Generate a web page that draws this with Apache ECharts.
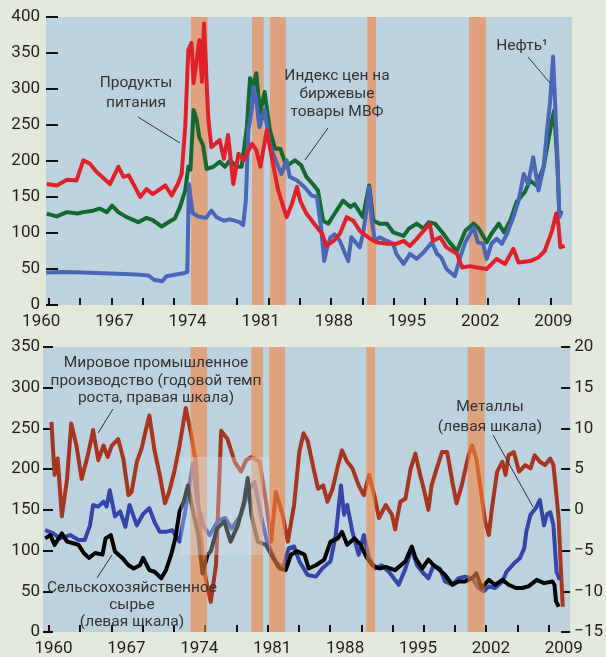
<!DOCTYPE html>
<html>
<head>
<meta charset="utf-8">
<script src="https://cdn.jsdelivr.net/npm/echarts@6.0.0/dist/echarts.min.js"></script>
<style>
html, body { margin: 0; padding: 0; background: #e3eadb; }
#chart-container { width: 606px; height: 657px; }
</style>
</head>
<body>
<div id="chart-container"></div>
<script>
var dom = document.getElementById('chart-container');
var myChart = echarts.init(dom, null, { renderer: 'canvas' });

// x values are years
const yearLabels = [1960, 1967, 1974, 1981, 1988, 1995, 2002, 2009];

// global recessions (start, end)
const recessions = [
    [1974.35, 1975.95],
    [1980.19, 1981.31],
    [1981.91, 1983.44],
    [1991.22, 1992.06],
    [2000.96, 2002.59]
];

// top panel
const food = [
    [1960.55,168],[1961.5,166],[1962.5,174],[1963.4,173],[1964.05,201],[1964.7,196],[1965.3,185],[1966.6,168],
    [1967.4,192],[1967.9,178],[1968.4,180],[1969.5,150],[1970.1,161],[1970.7,154],[1971.9,166],[1972.5,152],
    [1973.1,168],[1973.46,182],[1973.8,247],[1974.1,354],[1974.4,364],[1974.6,308],[1975.15,368],[1975.4,310],
    [1975.6,391],[1976.0,261],[1976.3,219],[1977.1,229],[1977.5,203],[1977.9,236],[1978.4,168],[1978.9,210],
    [1979.4,201],[1980.2,224],[1980.6,215],[1981.0,192],[1981.6,243],[1982.2,196],[1982.7,159],[1983.5,122],
    [1984.0,140],[1984.5,164],[1984.8,145],[1985.4,127],[1986.4,108],[1986.9,99],[1987.3,82],[1988.0,89],
    [1988.6,99],[1989.25,122],[1989.9,117],[1990.5,103],[1991.5,92],[1992.1,87],[1993.1,85],[1994.0,85],
    [1994.7,89],[1995.3,82],[1995.95,92],[1997.2,113],[1997.5,89],[1998.2,94],[1998.8,80],[1999.8,71],
    [2000.3,52],[2001.05,54],[2001.7,52],[2002.65,50],[2003.6,64],[2004.4,57],[2005.2,78],[2005.7,59],
    [2006.8,61],[2007.6,66],[2008.2,75],[2008.9,103],[2009.3,127],[2009.5,113],[2009.7,80],[2010.1,82]
];

const imfIndex = [
    [1960.55,127],[1961.5,123],[1962.5,129],[1963.5,127],[1964.05,129],[1965.0,131],[1965.6,134],[1966.3,129],
    [1966.8,138],[1967.4,129],[1968.2,122],[1969.3,115],[1970.1,121],[1970.7,118],[1971.55,109],[1972.2,115],
    [1972.8,120],[1973.3,136],[1973.8,159],[1974.1,192],[1974.3,188],[1974.6,271],[1974.9,257],[1975.15,233],
    [1975.5,222],[1975.85,189],[1976.5,192],[1977.1,199],[1977.6,192],[1978.1,201],[1978.7,192],[1979.2,192],
    [1979.7,247],[1980.0,315],[1980.3,303],[1980.6,322],[1980.96,266],[1981.4,296],[1981.9,243],[1982.4,217],
    [1982.9,217],[1983.5,192],[1983.8,196],[1984.3,201],[1984.9,194],[1985.4,178],[1986.0,168],[1986.5,159],
    [1987.0,117],[1987.5,113],[1988.1,127],[1988.9,145],[1989.6,136],[1990.0,140],[1990.8,122],[1991.4,166],
    [1991.8,117],[1992.4,113],[1993.1,113],[1993.7,101],[1994.7,96],[1995.2,106],[1995.95,113],[1996.6,106],
    [1997.1,115],[1997.7,113],[1998.5,99],[1999.1,87],[1999.8,75],[2000.6,103],[2001.4,113],[2001.9,106],
    [2002.65,87],[2003.1,99],[2003.8,113],[2004.3,101],[2004.9,117],[2005.5,143],[2006.3,157],[2006.8,173],
    [2007.4,166],[2008.1,192],[2008.55,229],[2008.9,257],[2009.1,270],[2009.4,200],[2009.6,125],[2009.8,131]
];

const oil = [
    [1960.5,45],[1962,46],[1964,45],[1966,44],[1968,43],[1969.5,42],[1970.3,41],[1970.8,35],[1971.6,33],
    [1972.0,40],[1972.8,42],[1973.6,44],[1974.0,46],[1974.15,168],[1974.5,128],[1975.0,123],[1975.8,121],
    [1976.3,131],[1976.8,122],[1977.5,117],[1978.1,119],[1979.0,115],[1979.35,111],[1979.6,145],[1979.85,243],
    [1980.2,275],[1980.3,303],[1980.6,285],[1980.9,247],[1981.4,271],[1981.8,229],[1982.2,210],[1982.7,192],
    [1983.0,182],[1983.5,201],[1983.8,178],[1984.5,173],[1985.2,164],[1985.9,152],[1986.4,150],[1986.8,108],
    [1987.1,61],[1987.3,75],[1987.7,94],[1988.1,98],[1988.6,89],[1989.4,61],[1989.7,94],[1990.5,80],
    [1990.8,98],[1991.2,136],[1991.4,164],[1991.65,117],[1991.95,89],[1992.4,94],[1993.1,89],[1993.7,85],
    [1994.0,71],[1994.7,57],[1995.3,71],[1995.95,64],[1996.6,73],[1997.4,87],[1997.9,71],[1998.3,66],
    [1998.8,50],[1999.6,40],[2000.1,66],[2000.6,87],[2001.05,99],[2001.4,108],[2001.8,87],[2002.3,85],
    [2002.65,64],[2003.1,85],[2003.6,92],[2004.1,85],[2004.6,99],[2005.2,122],[2005.7,145],[2006.2,182],
    [2006.6,168],[2007.1,205],[2007.6,159],[2008.1,192],[2008.45,247],[2008.7,280],[2009.0,345],[2009.15,345],
    [2009.4,210],[2009.6,122],[2009.8,129]
];

// bottom panel
const industrial = [ // right axis, % y/y
    [1961.0,10.8],[1961.3,4.3],[1961.6,6.3],[1962.0,-0.8],[1962.5,3.8],[1962.9,10.6],[1963.4,7.9],[1963.9,3.8],
    [1964.5,6.7],[1965.0,9.8],[1965.5,6.1],[1966.0,7.9],[1966.4,6.5],[1966.8,7.9],[1967.4,8.7],[1967.9,6.3],
    [1968.4,1.8],[1968.7,2.2],[1969.2,5.9],[1969.65,7.5],[1970.1,10.0],[1970.4,11.6],[1970.9,7.3],[1971.4,4.3],
    [1971.9,0.8],[1972.3,2.2],[1972.8,4.7],[1973.3,7.9],[1973.9,12.5],[1974.4,9.4],[1974.9,5.5],[1975.2,-1.5],
    [1975.5,-5.1],[1975.8,-8.4],[1976.3,-11.3],[1976.8,-6.8],[1977.3,9.7],[1977.9,8.7],[1978.6,5.9],[1979.2,4.7],
    [1979.7,6.1],[1980.2,6.5],[1981.0,5.9],[1981.6,1.0],[1982.1,-3.9],[1982.55,2.2],[1983.2,-0.6],[1983.7,-3.9],
    [1984.3,0.6],[1984.8,7.1],[1985.2,9.4],[1985.6,8.5],[1986.1,5.5],[1986.6,2.6],[1987.1,3.0],[1987.5,1.0],
    [1988.0,2.6],[1988.45,5.1],[1988.9,7.3],[1989.4,5.9],[1989.9,5.1],[1990.5,3.0],[1991.0,1.8],[1991.5,4.3],
    [1992.0,1.8],[1992.45,-1.0],[1993.1,0.6],[1993.7,-0.6],[1994.0,-2.4],[1994.5,1.0],[1995.0,1.4],[1995.5,5.1],
    [1995.95,6.9],[1996.4,4.3],[1996.75,2.6],[1997.2,0.0],[1997.5,3.0],[1998.0,5.1],[1998.5,7.1],[1999.0,7.1],
    [1999.5,3.4],[1999.9,0.8],[2000.4,3.0],[2001.05,6.7],[2001.4,7.9],[2001.8,6.3],[2002.3,1.8],[2002.65,-1.45],
    [2003.0,-3.1],[2003.3,0.2],[2003.8,4.7],[2004.3,5.9],[2004.6,4.3],[2004.9,6.7],[2005.4,7.1],[2005.9,4.7],
    [2006.5,5.5],[2007.0,5.1],[2007.4,6.7],[2007.9,5.9],[2008.4,5.5],[2008.9,6.3],[2009.2,5.5],[2009.4,3.0],
    [2009.7,-1.0],[2009.9,-6.8],[2010.1,-11.9]
];

const metals = [
    [1960.4,125],[1961.2,121],[1961.8,115],[1962.8,119],[1963.6,113],[1964.2,113],[1964.7,131],[1965.0,156],
    [1965.5,154],[1966.0,160],[1966.3,154],[1966.6,174],[1967.1,142],[1967.6,148],[1968.1,129],[1968.5,156],
    [1969.2,131],[1969.8,145],[1970.4,152],[1970.9,135],[1971.4,123],[1972.0,123],[1972.6,125],[1973.3,111],
    [1973.9,152],[1974.6,207],[1975.0,160],[1975.6,130],[1976.2,119],[1977.0,137],[1977.7,140],[1978.3,127],
    [1979.2,144],[1980.0,176],[1980.5,184],[1981.1,144],[1981.7,111],[1982.5,87],[1983.2,78],[1983.8,103],
    [1984.3,105],[1984.8,87],[1985.6,70],[1986.4,68],[1987.0,78],[1987.8,87],[1988.3,119],[1988.8,180],
    [1989.1,144],[1989.4,156],[1989.9,123],[1990.5,95],[1991.0,119],[1991.5,91],[1992.1,78],[1992.7,82],
    [1993.4,74],[1994.35,58],[1995.0,78],[1995.6,103],[1996.1,82],[1996.6,74],[1997.2,66],[1997.7,82],
    [1998.3,78],[1998.8,62],[1999.5,58],[2000.1,66],[2000.7,68],[2001.4,66],[2002.0,54],[2002.5,50],
    [2003.0,56],[2003.6,54],[2004.3,62],[2004.7,74],[2005.4,84],[2006.0,91],[2006.4,103],[2006.6,123],
    [2007.0,144],[2007.5,152],[2007.9,162],[2008.3,131],[2008.6,145],[2008.9,147],[2009.2,131],[2009.5,74],
    [2009.8,64]
];

const agriRaw = [
    [1960.4,115],[1960.9,119],[1961.3,107],[1962.0,121],[1962.5,111],[1963.1,109],[1963.6,107],[1964.1,97],
    [1964.6,91],[1965.2,97],[1965.9,95],[1966.2,115],[1966.7,119],[1967.1,99],[1967.8,91],[1968.4,82],
    [1968.9,78],[1969.5,82],[1969.8,91],[1970.4,76],[1970.9,74],[1971.55,66],[1972.0,76],[1972.5,95],
    [1972.9,115],[1973.3,148],[1973.7,160],[1974.1,180],[1974.6,148],[1975.1,119],[1975.5,72],[1976.0,95],
    [1976.3,99],[1976.9,127],[1977.6,136],[1978.2,111],[1978.9,131],[1979.5,160],[1979.85,189],[1980.2,144],
    [1980.8,111],[1981.6,107],[1982.1,95],[1982.9,78],[1983.5,76],[1984.0,95],[1984.6,99],[1985.3,95],
    [1985.7,78],[1986.4,82],[1987.2,89],[1987.8,111],[1988.5,115],[1988.9,123],[1989.4,107],[1990.1,115],
    [1990.7,107],[1991.2,93],[1991.8,82],[1992.5,78],[1993.1,80],[1994.0,76],[1995.0,87],[1995.6,105],
    [1995.95,91],[1996.6,78],[1997.2,89],[1997.7,82],[1998.3,76],[1998.8,70],[1999.5,58],[2000.1,62],
    [2000.7,62],[2001.4,66],[2001.8,72],[2002.3,54],[2003.0,64],[2003.6,58],[2004.3,64],[2004.9,58],
    [2005.6,54],[2006.2,54],[2006.8,56],[2007.6,64],[2008.3,60],[2009.1,62],[2009.3,58],[2009.45,38],
    [2009.7,31]
];

const tickFont = 'Roboto';
const noteFont = '15.5px Roboto';
const textColor = '#231f20';

// ticks every 3 years on the time axes
let xTicks = [];
for (let t = 1960.75; t < 2010; t += 3) xTicks.push(t);

function yearAxis(gridIndex, min, labelShift, pad) {
    return {
        gridIndex: gridIndex,
        type: 'value',
        min: min,
        max: 2010.81,
        axisLine: { show: false },
        splitLine: { show: false },
        axisTick: {
            inside: true,
            length: 7,
            lineStyle: { color: '#111', width: 2 },
            customValues: xTicks
        },
        axisLabel: {
            customValues: yearLabels.map(function (y) { return y + labelShift; }),
            formatter: function (v) { return String(Math.round(v - labelShift)); },
            fontFamily: tickFont,
            fontSize: 17,
            color: textColor,
            margin: 8,
            padding: pad
        }
    };
}

function valueAxis(gridIndex, min, max, interval, pos, margin, tickLen, fmt) {
    return {
        gridIndex: gridIndex,
        type: 'value',
        position: pos,
        min: min,
        max: max,
        interval: interval,
        axisLine: { show: false },
        splitLine: { show: false },
        axisTick: { inside: true, length: tickLen, lineStyle: { color: '#111', width: 2 } },
        axisLabel: {
            fontFamily: tickFont,
            fontSize: 17,
            color: textColor,
            margin: margin,
            formatter: fmt
        }
    };
}

function bandSeries(xi, yi, z, color, opacity) {
    return {
        type: 'custom',
        xAxisIndex: xi,
        yAxisIndex: yi,
        z: z,
        silent: true,
        encode: { x: [0, 1] },
        data: recessions,
        renderItem: function (params, api) {
            var s = api.coord([api.value(0), 0]);
            var e = api.coord([api.value(1), 0]);
            var cs = params.coordSys;
            return {
                type: 'rect',
                shape: { x: s[0], y: cs.y, width: e[0] - s[0], height: cs.height },
                style: { fill: color, opacity: opacity }
            };
        }
    };
}

function lineSeries(data, xi, yi, color) {
    return {
        type: 'line',
        xAxisIndex: xi,
        yAxisIndex: yi,
        data: data,
        showSymbol: false,
        symbol: 'none',
        lineStyle: { color: color, width: 4, join: 'round' },
        z: 2
    };
}

function note(text, x, y, lh) {
    return {
        type: 'text',
        z: 100,
        style: {
            text: text, x: x, y: y,
            font: noteFont, fill: '#333',
            align: 'center', verticalAlign: 'middle', lineHeight: lh
        }
    };
}

function leader(x1, y1, x2, y2) {
    return {
        type: 'line',
        z: 100,
        shape: { x1: x1, y1: y1, x2: x2, y2: y2 },
        style: { stroke: '#333', lineWidth: 1 }
    };
}

var option = {
    backgroundColor: '#e3eadb',
    animation: false,
    grid: [
        { left: 46, top: 17, width: 526, height: 288, show: true, backgroundColor: '#bcd3df', borderWidth: 0 },
        { left: 43, top: 347, width: 529, height: 288, show: true, backgroundColor: '#bcd3df', borderWidth: 0 }
    ],
    xAxis: [
        yearAxis(0, 1960.48, 0.5, [0, 10, 0, 0]),
        yearAxis(1, 1960.19, 1.2, 0)
    ],
    yAxis: [
        valueAxis(0, 0, 400, 50, 'left', 6, 12),
        valueAxis(1, 0, 350, 50, 'left', 3, 10),
        valueAxis(1, -15, 20, 5, 'right', 4, 9, function (v) {
            return v < 0 ? '\u2212' + Math.abs(v) : String(v);
        })
    ],
    series: [
        bandSeries(0, 0, 1, '#dea27e', 1),
        lineSeries(imfIndex, 0, 0, '#13692f'),
        lineSeries(oil, 0, 0, '#4a66b6'),
        lineSeries(food, 0, 0, '#e1212a'),
        lineSeries(industrial, 1, 2, '#a8351d'),
        lineSeries(metals, 1, 1, '#3446a8'),
        lineSeries(agriRaw, 1, 1, '#000000'),
        bandSeries(1, 1, 5, '#f5823c', 0.6)
    ],
    graphic: [
        // faded patch in the lower panel
        { type: 'rect', z: 50, shape: { x: 181, y: 457, width: 89, height: 98 },
          style: { fill: 'rgba(210,225,234,0.35)' } },
        note('Продукты\nпитания', 136, 93, 20),
        leader(138, 117, 180, 143),
        note('Индекс цен на\nбиржевые\nтовары МВФ', 337, 94, 18),
        leader(328, 128, 305, 160),
        note('Нефть¹', 522, 46, 18),
        leader(528, 57, 550, 83),
        note('Мировое промышленное\nпроизводство (годовой темп\nроста, правая шкала)', 156, 381, 17.5),
        leader(113, 409, 98, 433),
        note('Сельскохозяйственное\nсырье\n(левая шкала)', 132, 605, 17),
        leader(97, 578, 112, 555),
        note('Металлы\n(левая шкала)', 490, 417, 19.5),
        leader(493, 435, 533, 507)
    ]
};

myChart.setOption(option);
window.addEventListener('resize', myChart.resize);
</script>
</body>
</html>
